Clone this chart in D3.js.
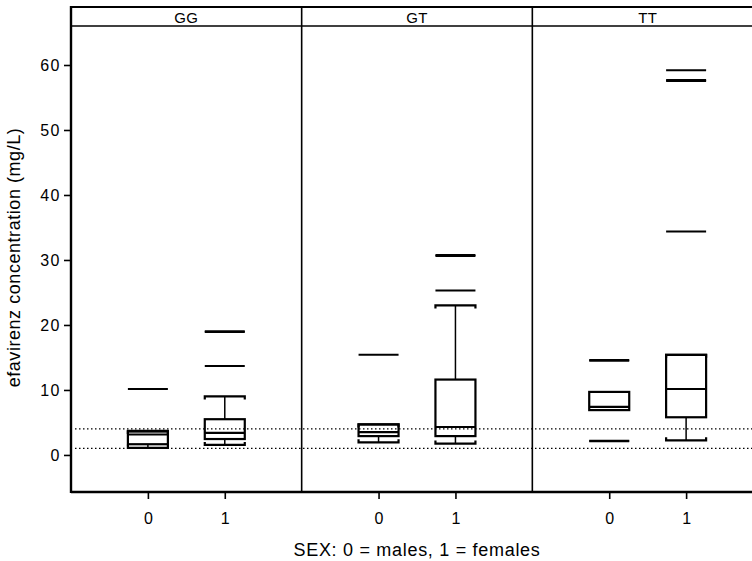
<!DOCTYPE html>
<html>
<head>
<meta charset="utf-8">
<script src="https://cdn.jsdelivr.net/npm/d3@7"></script>
<style>
  body { margin: 0; background: #fff; }
  text { font-family: "Liberation Sans", Arial, sans-serif; fill: #000; }
</style>
</head>
<body>
<div id="chart"></div>
<script>
// DATA
const genotypes = ["GG", "GT", "TT"];
const sexes = ["0", "1"];
const yTicks = [0, 10, 20, 30, 40, 50, 60];
const refLines = [1, 4];

// one entry per box: GG0, GG1, GT0, GT1, TT0, TT1
const boxGenotype = ["GG", "GG", "GT", "GT", "TT", "TT"];
const boxSex = ["0", "1", "0", "1", "0", "1"];
const whiskerLow = [1.1, 1.55, 1.95, 1.75, null, 2.25];
const q1 = [1.65, 2.45, 2.9, 2.9, 6.9, 5.8];
const median = [3.15, 3.4, 3.5, 4.3, 7.4, 10.15];
const q3 = [3.6, 5.5, 4.7, 11.6, 9.7, 15.4];
const whiskerHigh = [3.7, 9.0, 4.7, 23.0, null, 15.4];
const outliers = [
  [10.15],
  [13.7, 18.9, 19.05],
  [15.4],
  [25.3, 30.6, 30.75],
  [2.1, 2.2, 14.5, 14.6],
  [34.4, 57.55, 57.7, 59.2]
];

// DIMENSIONS
const width = 752;
const height = 561;
const plotLeft = 71, plotRight = 763, plotTop = 7, stripBottom = 26, plotBottom = 492;

const svg = d3.select("#chart").append("svg")
  .attr("width", width)
  .attr("height", height);

// SCALES
const y = d3.scaleLinear().domain([-5.7, 66]).range([plotBottom, stripBottom]);
const xPanel = d3.scaleBand().domain(genotypes).range([plotLeft, plotRight]);
const xSex = d3.scalePoint().domain(sexes).range([0, xPanel.bandwidth()]).padding(1);
const boxW = 40;
const cx = i => xPanel(boxGenotype[i]) + xSex(boxSex[i]);

// REFERENCE LINES (dotted, across all panels)
svg.selectAll(".ref")
  .data(refLines)
  .join("line")
  .attr("x1", plotLeft + 4).attr("x2", width)
  .attr("y1", d => y(d)).attr("y2", d => y(d))
  .attr("stroke", "#000")
  .attr("stroke-width", 1.3)
  .attr("stroke-dasharray", "1.5,2.5");

// BOXES
const boxes = svg.selectAll(".box")
  .data(d3.range(boxGenotype.length))
  .join("g");

// whiskers + caps
boxes.each(function (i) {
  const g = d3.select(this);
  const x = cx(i);
  if (whiskerLow[i] != null) {
    g.append("line")
      .attr("x1", x).attr("x2", x)
      .attr("y1", y(q1[i])).attr("y2", y(whiskerLow[i]))
      .attr("stroke", "#000").attr("stroke-width", 1.5);
    g.append("path")
      .attr("d", `M${x - boxW / 2},${y(whiskerLow[i]) - 3}V${y(whiskerLow[i])}H${x + boxW / 2}V${y(whiskerLow[i]) - 3}`)
      .attr("fill", "none").attr("stroke", "#000").attr("stroke-width", 2.2);
  }
  if (whiskerHigh[i] != null) {
    g.append("line")
      .attr("x1", x).attr("x2", x)
      .attr("y1", y(q3[i])).attr("y2", y(whiskerHigh[i]))
      .attr("stroke", "#000").attr("stroke-width", 1.5);
    g.append("path")
      .attr("d", `M${x - boxW / 2},${y(whiskerHigh[i]) + 3}V${y(whiskerHigh[i])}H${x + boxW / 2}V${y(whiskerHigh[i]) + 3}`)
      .attr("fill", "none").attr("stroke", "#000").attr("stroke-width", 2.2);
  }
});

boxes.append("rect")
  .attr("x", i => cx(i) - boxW / 2)
  .attr("width", boxW)
  .attr("y", i => y(q3[i]))
  .attr("height", i => y(q1[i]) - y(q3[i]))
  .attr("fill", "none")
  .attr("stroke", "#000")
  .attr("stroke-width", 2.2);

boxes.append("line")
  .attr("x1", i => cx(i) - boxW / 2)
  .attr("x2", i => cx(i) + boxW / 2)
  .attr("y1", i => y(median[i]))
  .attr("y2", i => y(median[i]))
  .attr("stroke", "#000")
  .attr("stroke-width", 2.2);

// outliers drawn as horizontal dashes
boxes.selectAll(".out")
  .data(i => outliers[i].map(v => ({ i, v })))
  .join("line")
  .attr("x1", d => cx(d.i) - boxW / 2)
  .attr("x2", d => cx(d.i) + boxW / 2)
  .attr("y1", d => y(d.v))
  .attr("y2", d => y(d.v))
  .attr("stroke", "#000")
  .attr("stroke-width", 2);

// FRAME
svg.append("line").attr("x1", plotLeft).attr("x2", width).attr("y1", plotTop).attr("y2", plotTop)
  .attr("stroke", "#000").attr("stroke-width", 2.2);
svg.append("line").attr("x1", plotLeft).attr("x2", width).attr("y1", stripBottom).attr("y2", stripBottom)
  .attr("stroke", "#000").attr("stroke-width", 1.6);
svg.append("line").attr("x1", plotLeft).attr("x2", width).attr("y1", plotBottom).attr("y2", plotBottom)
  .attr("stroke", "#000").attr("stroke-width", 2.4);
svg.append("line").attr("x1", plotLeft).attr("x2", plotLeft).attr("y1", plotTop - 1).attr("y2", plotBottom + 1)
  .attr("stroke", "#000").attr("stroke-width", 2.4);
svg.selectAll(".sep")
  .data(genotypes.slice(1))
  .join("line")
  .attr("x1", d => xPanel(d)).attr("x2", d => xPanel(d))
  .attr("y1", plotTop).attr("y2", plotBottom)
  .attr("stroke", "#000").attr("stroke-width", 1.6);

// STRIP LABELS
svg.selectAll(".strip")
  .data(genotypes)
  .join("text")
  .attr("x", d => xPanel(d) + xPanel.bandwidth() / 2)
  .attr("y", 23)
  .attr("text-anchor", "middle")
  .style("font-size", "15px")
  .style("letter-spacing", "0.3px")
  .text(d => d);

// Y AXIS
const yAxis = svg.append("g")
  .attr("transform", `translate(${plotLeft},0)`)
  .call(d3.axisLeft(y).tickValues(yTicks).tickSize(7).tickPadding(3));
yAxis.select(".domain").remove();
yAxis.selectAll(".tick line").attr("stroke-width", 1.6);
yAxis.selectAll("text")
  .style("font-size", "16px")
  .style("letter-spacing", "1.5px")
  .attr("fill", "#000");

// X AXIS (one per panel)
genotypes.forEach(gt => {
  const ax = svg.append("g")
    .attr("transform", `translate(${xPanel(gt)},${plotBottom})`)
    .call(d3.axisBottom(xSex).tickSize(7).tickPadding(14));
  ax.select(".domain").remove();
  ax.selectAll(".tick line").attr("stroke-width", 1.6);
  ax.selectAll("text")
    .style("font-size", "16px")
    .attr("fill", "#000");
});

// AXIS TITLES
svg.append("text")
  .attr("x", (plotLeft + plotRight) / 2)
  .attr("y", 556)
  .attr("text-anchor", "middle")
  .style("font-size", "18px")
  .style("letter-spacing", "0.7px")
  .text("SEX: 0 = males, 1 = females");

svg.append("text")
  .attr("transform", `translate(20,${(128 + 387) / 2}) rotate(-90)`)
  .attr("text-anchor", "middle")
  .style("font-size", "18px")
  .style("letter-spacing", "0.55px")
  .text("efavirenz concentration (mg/L)");
</script>
</body>
</html>
